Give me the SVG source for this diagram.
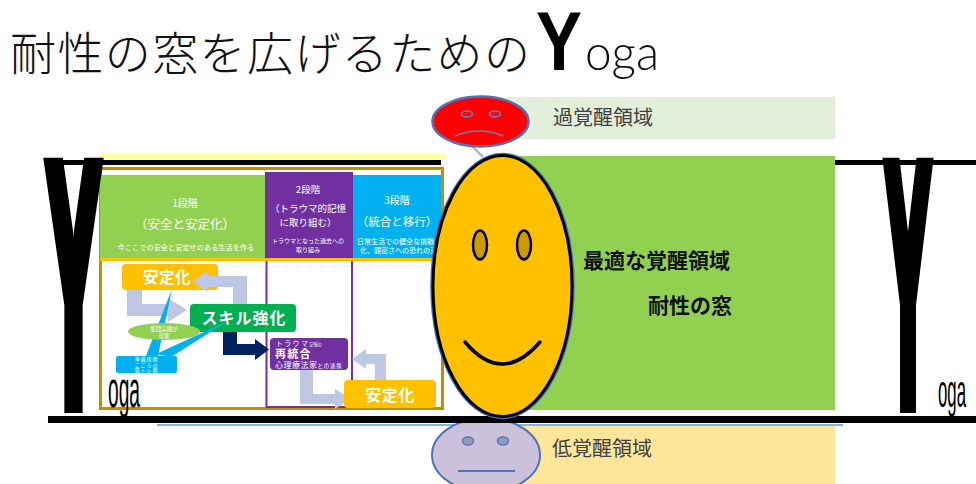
<svg xmlns="http://www.w3.org/2000/svg" width="976" height="484" viewBox="0 0 976 484">
<defs>
<style>
.jp{font-family:"Noto Sans CJK JP","Noto Sans CJK SC",sans-serif}
.lat{font-family:"Liberation Sans",Arial,sans-serif}
.yy{font-family:"DejaVu Sans",sans-serif;font-weight:700;fill:#000}
.w{fill:#fff}
.b{font-weight:700}
.mid{text-anchor:middle}
.lt{fill:#BEC7E4}
.face-y{fill:#FFC000;stroke:#000;stroke-width:3}
.zone{font-size:20px;fill:#404040}
</style>
<clipPath id="clip-stage3"><rect x="353" y="175" width="88" height="83"/></clipPath>
<filter id="thicken" x="-20%" y="-5%" width="140%" height="110%">
<feMorphology operator="dilate" radius="2.2 0"/>
</filter>
</defs>
<rect width="976" height="484" fill="#fff"/>

<!-- heading -->
<g id="title">
<text x="10" y="70" class="jp" font-size="46" font-weight="300" textLength="520" lengthAdjust="spacing" fill="#111">耐性の窓を広げるための</text>
<text x="536" y="70" class="lat b" font-size="84" textLength="46" lengthAdjust="spacingAndGlyphs">Y</text>
<text x="585" y="70" font-family="Lato,'Liberation Sans',sans-serif" font-weight="300" font-size="50" textLength="74" lengthAdjust="spacingAndGlyphs" fill="#111">oga</text>
</g>

<!-- three-stage slide -->
<g id="stage-panel">
<rect x="100" y="154" width="345" height="5" fill="#FFFF9E"/>
<rect x="100.5" y="168.5" width="342" height="240" fill="#fff" stroke="#BF9000" stroke-width="3"/>
<line x1="101" y1="266" x2="442" y2="266" stroke="#c8c8c8" stroke-width="0.8" stroke-dasharray="1 2"/>

<g id="stage1">
<rect x="100" y="175" width="166" height="83" fill="#92D050"/>
<text x="185" y="206.5" class="jp w mid" font-size="10">1段階</text>
<text x="185" y="228.5" class="jp w mid" font-size="12.5">（安全と安定化）</text>
<text x="186" y="249.5" class="jp w mid" font-size="7.2">今ここでの安全と安定せのある生活を作る</text>
</g>

<g id="stage2">
<rect x="266.5" y="173" width="85.5" height="234" fill="none" stroke="#7030A0" stroke-width="2"/>
<rect x="265" y="172" width="88" height="87" fill="#7030A0"/>
<text x="308" y="192.5" class="jp w mid" font-size="9.5">2段階</text>
<text x="308" y="211.5" class="jp w mid" font-size="9.5">（トラウマ的記憶</text>
<text x="308" y="225.5" class="jp w mid" font-size="9.5">に取り組む）</text>
<text x="308" y="242.5" class="jp w mid" font-size="6">トラウマとなった過去への</text>
<text x="308" y="251.5" class="jp w mid" font-size="6">取り組み</text>
</g>

<g id="stage3">
<rect x="353" y="175" width="88" height="83" fill="#00B0F0"/>
<text x="397" y="203.5" class="jp w mid" font-size="10">3段階</text>
<text x="397" y="226" class="jp w mid" font-size="11.5">（統合と移行）</text>
<g clip-path="url(#clip-stage3)">
<text x="357" y="243.5" class="jp w" font-size="7">日常生活での健全な挑戦や引</text>
<text x="360" y="252.5" class="jp w" font-size="7">化、親密さへの恐れの克服</text>
</g>
</g>

<rect x="100" y="258" width="343" height="3" fill="#FFC000"/>

<!-- flow of the stages -->
<g id="flow">
<path class="lt" d="M127,290 L142,290 L142,304 L168,304 L168,298 L187,310 L168,322 L168,316 L127,316 Z"/>
<g id="stabilize-1">
<rect x="122" y="264" width="96" height="26" rx="4" fill="#FFC000"/>
<text x="167" y="283" class="jp w b mid" font-size="15.5" letter-spacing="0.5">安定化</text>
</g>
<path class="lt" d="M247,306 L247,276 L207,276 L207,271 L193,281.5 L207,292 L207,287 L233,287 L233,306 Z"/>
<g id="skill">
<rect x="190" y="304" width="106" height="28" rx="4" fill="#00B050"/>
<text x="244" y="324" class="jp w b mid" font-size="16" letter-spacing="1">スキル強化</text>
</g>
<path fill="#002060" d="M223,332 L237,332 L237,344 L255,344 L255,339 L269,349.5 L255,360 L255,355 L223,355 Z"/>
<polygon fill="#00B0F0" points="172,289 146,356 158,356"/>
<polygon fill="#00B0F0" points="228,321 156,354 171,357"/>
<g id="group-practice">
<ellipse cx="164" cy="331.5" rx="36" ry="8.5" fill="#92D050"/>
<text x="164" y="331" class="jp w mid" font-size="5.5">集団実践が</text>
<text x="164" y="337.5" class="jp w mid" font-size="5.5">可能</text>
</g>
<g id="prep">
<rect x="116" y="356" width="61" height="17" rx="2" fill="#00B0F0"/>
<text x="146.5" y="361.3" class="jp w mid" font-size="5" letter-spacing="0.9">準備段階</text>
<text x="146.5" y="366.6" class="jp w mid" font-size="5" letter-spacing="0.9">こころの</text>
<text x="146.5" y="371.9" class="jp w mid" font-size="5" letter-spacing="0.9">筋トレ期</text>
</g>
<g id="reintegrate">
<rect x="270" y="338" width="78" height="32" rx="4" fill="#7030A0"/>
<text x="276" y="346" class="jp w"><tspan font-size="7" letter-spacing="1.3">トラウマ</tspan><tspan font-size="4.2">記憶の</tspan></text>
<text x="275" y="357.5" class="jp w b" font-size="11" letter-spacing="1.2">再統合</text>
<text x="275" y="367.5" class="jp w"><tspan font-size="8" letter-spacing="0.5">心理療法家</tspan><tspan font-size="5.5" letter-spacing="0.8">との連携</tspan></text>
</g>
<path class="lt" d="M300,370 L313,370 L313,394 L335,394 L335,389 L351,399 L335,409 L335,404 L300,404 Z"/>
<g id="stabilize-2">
<rect x="344" y="380" width="92" height="28" rx="4" fill="#FFC000"/>
<text x="390" y="400.5" class="jp w b mid" font-size="16" letter-spacing="0.5">安定化</text>
</g>
<path class="lt" d="M375,380 L375,364 L366,364 L366,369 L352,359 L366,349 L366,354 L386,354 L386,380 Z"/>
</g>
</g>

<!-- frame bars -->
<rect x="45" y="160" width="396" height="5" fill="#000"/>
<rect x="835" y="160" width="141" height="5" fill="#000"/>
<line x1="157" y1="425" x2="843" y2="425" stroke="#5B9BD5" stroke-width="1.5"/>

<!-- arousal zones -->
<rect id="zone-high" x="480" y="97" width="355" height="42" fill="#E2EFDA"/>
<rect id="zone-optimal" x="520" y="156" width="315" height="254" fill="#92D050"/>
<rect id="zone-low" x="490" y="426" width="345" height="58" fill="#FFE699"/>
<text x="553" y="124.5" class="jp zone">過覚醒領域</text>
<text x="552" y="455.5" class="jp zone">低覚醒領域</text>
<g id="optimal-label">
<text x="583" y="267.5" class="jp b" font-size="21" fill="#111">最適な覚醒領域</text>
<text x="648" y="312.5" class="jp b" font-size="21" fill="#111">耐性の窓</text>
</g>

<g id="connectors">
<line x1="471" y1="145" x2="483" y2="157" stroke="#9DB0D8" stroke-width="2.2"/>
</g>

<g id="face-high">
<ellipse cx="480.5" cy="121.5" rx="48" ry="25" fill="#FF0000" stroke="#5470B0" stroke-width="2.5"/>
<ellipse cx="467" cy="114" rx="5.5" ry="3" fill="#E81020" stroke="#6A7FB5" stroke-width="1.5"/>
<ellipse cx="495" cy="114" rx="5.5" ry="3" fill="#E81020" stroke="#6A7FB5" stroke-width="1.5"/>
<path d="M455,136 Q479,126 503,136" fill="none" stroke="#6A7FB5" stroke-width="1.5"/>
</g>

<g id="face-low">
<ellipse cx="486" cy="455" rx="54" ry="37" fill="#CCC1DA" stroke="#4F72BE" stroke-width="2"/>
<ellipse cx="468" cy="441" rx="5.5" ry="4" fill="#8E9CC0" stroke="#5B76B0" stroke-width="1.5"/>
<ellipse cx="503" cy="441" rx="5.5" ry="4" fill="#8E9CC0" stroke="#5B76B0" stroke-width="1.5"/>
<line x1="458" y1="471" x2="515" y2="471" stroke="#4F72BE" stroke-width="2"/>
</g>

<rect x="48" y="416" width="928" height="7" fill="#000"/>

<g id="face-optimal">
<ellipse cx="502.5" cy="286" rx="70" ry="131" fill="none" stroke="#4472C4" stroke-width="4.5"/>
<ellipse class="face-y" cx="502.5" cy="286" rx="69.5" ry="130.5"/>
<ellipse cx="480" cy="245" rx="7" ry="14.5" fill="#CC9900" stroke="#000" stroke-width="2.5"/>
<ellipse cx="524" cy="245" rx="7" ry="14.5" fill="#CC9900" stroke="#000" stroke-width="2.5"/>
<path d="M465,342 Q502,386 540,342" fill="none" stroke="#000" stroke-width="3.5" stroke-linecap="round"/>
</g>

<!-- Yoga pillars -->
<g id="pillar-left">
<text x="46" y="413" class="yy" font-size="350" textLength="55" lengthAdjust="spacingAndGlyphs" filter="url(#thicken)">Y</text>
<text x="108" y="407" class="lat" font-size="52" textLength="32" lengthAdjust="spacingAndGlyphs">oga</text>
</g>
<g id="pillar-right">
<text x="885" y="413" class="yy" font-size="350" textLength="46" lengthAdjust="spacingAndGlyphs" filter="url(#thicken)">Y</text>
<text x="938" y="407" class="lat" font-size="46" textLength="28" lengthAdjust="spacingAndGlyphs">oga</text>
</g>
</svg>
